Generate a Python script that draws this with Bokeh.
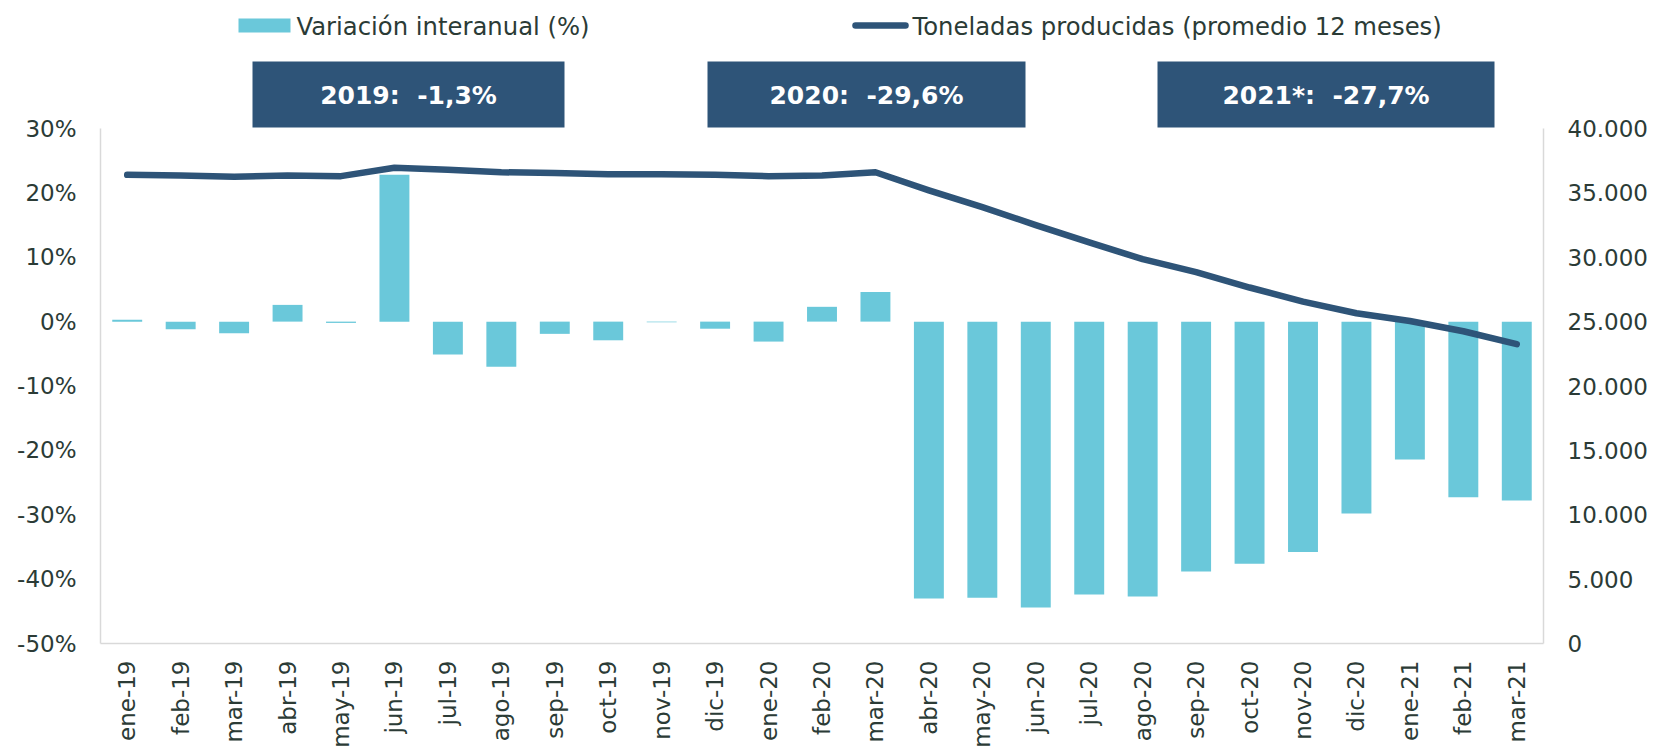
import math
import numpy as np
from bokeh.plotting import figure
from bokeh.models import Range1d, LinearAxis, FixedTicker
from bokeh.core.properties import value
from bokeh.embed import file_html
from bokeh.resources import INLINE

# ---------------- data ----------------
months = ["ene-19", "feb-19", "mar-19", "abr-19", "may-19", "jun-19", "jul-19",
          "ago-19", "sep-19", "oct-19", "nov-19", "dic-19", "ene-20", "feb-20",
          "mar-20", "abr-20", "may-20", "jun-20", "jul-20", "ago-20", "sep-20",
          "oct-20", "nov-20", "dic-20", "ene-21", "feb-21", "mar-21"]
variacion = [0.3, -1.2, -1.8, 2.6, -0.2, 22.8, -5.1, -7.0, -1.9, -2.9, -0.1, -1.1,
             -3.1, 2.3, 4.6, -43.0, -42.9, -44.4, -42.4, -42.7, -38.8, -37.6,
             -35.8, -29.8, -21.4, -27.3, -27.8]
toneladas = [36400, 36350, 36250, 36350, 36300, 36950, 36800, 36600, 36550, 36450,
             36450, 36400, 36300, 36350, 36600, 35200, 33900, 32500, 31150, 29850,
             28850, 27650, 26550, 25650, 25050, 24250, 23250]
pct_ticks = [-50, -40, -30, -20, -10, 0, 10, 20, 30]
ton_ticks = [0, 5000, 10000, 15000, 20000, 25000, 30000, 35000, 40000]
box_texts = ["2019:\u00a0\u00a0-1,3%", "2020:\u00a0\u00a0-29,6%", "2021*:\u00a0\u00a0-27,7%"]
legend_texts = ["Variación interanual (%)", "Toneladas producidas (promedio 12 meses)"]

# ---------------- style / layout ----------------
BAR = "#6AC8DA"
NAVY = "#2E5478"
TXT = "#2B3B36"
AXIS = "#D9D9D9"
FONT = "DejaVu Sans"

W, H = 1655, 750
FL, FR, FB = 100, 1543, 643          # frame edges in canvas px
FT = 0
PCT_LO, PCT_HI_AX = -50, 30
px_per_pct = (FB - 128) / (PCT_HI_AX - PCT_LO)   # 30% line at y=128
y_top = PCT_LO + (FB - FT) / px_per_pct
n = len(months)
cat_px = (FR - FL) / n

def dx(px):   # canvas px -> data x
    return (px - FL) / cat_px

def dy(py):   # canvas px -> data y (pct)
    return PCT_LO + (FB - py) / px_per_pct

def ton_of(pct):
    return (pct - PCT_LO) * 40000 / (PCT_HI_AX - PCT_LO)

p = figure(width=W, height=H, output_backend="svg", toolbar_location=None,
           x_range=Range1d(0, n), y_range=Range1d(PCT_LO, y_top),
           min_border_left=FL, min_border_right=W - FR, min_border_top=FT,
           min_border_bottom=H - FB)
p.extra_y_ranges = {"ton": Range1d(ton_of(PCT_LO), ton_of(y_top))}
p.outline_line_color = None
p.xgrid.visible = False
p.ygrid.visible = False
p.background_fill_color = "white"
p.border_fill_color = "white"

xs = np.arange(n) + 0.5

# bars
p.vbar(x=xs, top=variacion, bottom=0, width=0.56, fill_color=BAR, line_color=None)
# line
p.line(x=xs, y=toneladas, y_range_name="ton", line_color=NAVY, line_width=6.5,
       line_cap="round", line_join="round")

# axes
def style_axis(ax):
    ax.axis_line_color = AXIS
    ax.axis_line_width = 1.5
    ax.major_tick_line_color = None
    ax.minor_tick_line_color = None
    ax.major_tick_out = 0
    ax.major_tick_in = 0
    ax.minor_tick_out = 0
    ax.major_label_text_font = FONT
    ax.major_label_text_font_size = "23px"
    ax.major_label_text_color = TXT

xa = p.xaxis[0]
style_axis(xa)
xa.ticker = FixedTicker(ticks=list(xs))
xa.major_label_overrides = {float(x): m for x, m in zip(xs, months)}
xa.major_label_orientation = math.pi / 2
xa.major_label_standoff = 17

ya = p.yaxis[0]
style_axis(ya)
ya.ticker = FixedTicker(ticks=pct_ticks)
ya.major_label_overrides = {t: f"{t}%" for t in pct_ticks}
ya.bounds = (PCT_LO, PCT_HI_AX)
ya.major_label_standoff = 24

ra = LinearAxis(y_range_name="ton")
style_axis(ra)
ra.ticker = FixedTicker(ticks=ton_ticks)
ra.major_label_overrides = {t: f"{t:,}".replace(",", ".") for t in ton_ticks}
ra.bounds = (0, 40000)
ra.major_label_standoff = 24
p.add_layout(ra, "right")

# legend (drawn)
p.quad(left=[dx(238)], right=[dx(290)], top=[dy(18)], bottom=[dy(32)],
       fill_color=BAR, line_color=None)
p.line(x=[dx(855), dx(905)], y=[dy(25), dy(25)], line_color=NAVY, line_width=6.5,
       line_cap="round")
p.text(x=[dx(296), dx(912)], y=[dy(26), dy(26)], text=legend_texts,
       text_font=value(FONT), text_font_size="24.3px", text_color=TXT,
       text_baseline="middle", text_align="left")

# annotation boxes
bl = [dx(252), dx(707), dx(1157)]
br = [dx(564), dx(1025), dx(1494)]
p.quad(left=bl, right=br, top=[dy(61)] * 3, bottom=[dy(127)] * 3,
       fill_color=NAVY, line_color=None)
p.text(x=[(a + b) / 2 for a, b in zip(bl, br)], y=[dy(95)] * 3, text=box_texts,
       text_font=value(FONT), text_font_size="25px", text_font_style="bold",
       text_color="white", text_baseline="middle", text_align="center")

open("out.html", "w").write(file_html(p, INLINE))
